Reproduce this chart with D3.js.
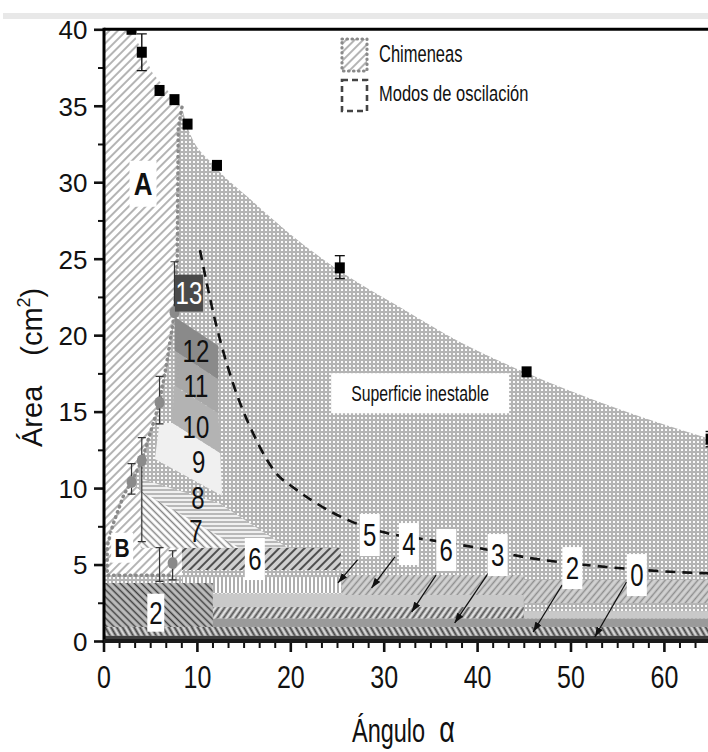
<!DOCTYPE html>
<html><head><meta charset="utf-8">
<script src="https://cdn.jsdelivr.net/npm/d3@7"></script>
<style>body{margin:0;background:#fff}svg{display:block}</style>
</head><body>
<svg id="c" width="708" height="752"></svg>
<script>
// ---------------- DATA ----------------
const xTicks = [0, 10, 20, 30, 40, 50, 60];
const yTicks = [0, 5, 10, 15, 20, 25, 30, 35, 40];
const xMinorStep = 10 / 6;
const yMinorStep = 2.5;

// unstable-surface limit (black squares) and error bars [x, lo, hi]
const unstableSquares = [[3, 40], [4.1, 38.5], [6, 36], [7.6, 35.4], [9, 33.8], [12.15, 31.1], [25.3, 24.4], [45.3, 17.6], [65, 13.2]];
const squareErr = [[4.1, 37.3, 39.7], [25.3, 23.7, 25.2], [65, 12.7, 13.7]];

// chimney limit (gray circles) and error bars
const chimneyCircles = [[3, 10.4], [4.1, 11.8], [6, 15.6], [7.6, 21.5], [7.4, 5.1]];
const circleErr = [[3, 9.6, 11.6], [4.1, 6.5, 13.3], [6, 14.2, 17.3], [7.6, 21.5, 24.8], [7.4, 4.0, 5.9], [6, 3.9, 6.1]];

// boundaries
const upperBoundary = [[8.4, 34.9], [9, 33.6], [12, 31], [15.7, 28.9], [20, 26.6], [25.3, 24.2], [31.8, 21.8], [38, 19.6], [45, 17.6], [55, 15.2], [65, 13.2]];
const regionA = [[0, 40], [3, 40], [5.3, 37.1], [8.4, 34.9], [8.0, 33.5], [7.9, 25], [7.6, 21.5], [6.8, 18.3], [6, 15.6], [5, 13.6], [4.1, 11.8], [3, 10.4], [3.6, 10.0], [4.0, 9.8], [4.0, 6.1], [8.4, 6.1], [8.4, 4.3], [0, 4.3]];
const chimneyLineA = [[8.4, 34.9], [8.0, 33.5], [7.9, 25], [7.6, 21.5], [6.8, 18.3], [6, 15.6], [5, 13.6], [4.1, 11.8], [3, 10.4]];
const chimneyLineB = [[3, 10.4], [2.2, 9.6], [1.0, 7.6], [0.4, 6.2], [0.4, 4.3], [7.3, 4.3]];
const oscillationBoundary = [[10.33, 25.56], [11.94, 20.98], [13.86, 16.86], [16.0, 13.6], [18.9, 10.7], [19.96, 10.2], [24.6, 8.37], [29.9, 7.12], [34.96, 6.6], [39.6, 6.14], [45.7, 5.42], [53.9, 4.84], [63.9, 4.44], [65, 4.42]];

// oscillation-mode regions (polygons)
const mode12 = [[7.6, 21.2], [12.3, 19.3], [12.3, 17.1], [7.6, 19.0]];
const mode11 = [[7.6, 19.0], [12.3, 17.1], [12.3, 14.9], [7.6, 16.7]];
const mode10 = [[7.5, 16.7], [12.3, 14.9], [12.5, 12.3], [7.4, 14.25]];
const mode9 = [[6.0, 14.25], [7.4, 14.25], [12.5, 12.3], [12.7, 9.5], [5.5, 11.9]];
const mode8 = [[4.1, 10.6], [12.4, 9.0], [19.7, 6.1], [4.0, 6.1]];
const mode7 = [[4.0, 9.8], [14.5, 6.1], [4.0, 6.1]];

// rectangular mode bands: [name, x0, x1, y0, y1]
const modeBands = [
  ["base", 0, 65, 0, 0.35],
  ["m0", 0, 65, 0.35, 0.92],
  ["m1", 11.7, 65, 0.92, 1.48],
  ["m3", 11.7, 45, 1.48, 2.22],
  ["m6b", 11.7, 45, 2.22, 3.1],
  ["m2gray", 45, 65, 1.48, 1.95],
  ["m2", 45, 65, 2.48, 3.99],
  ["m4", 25.5, 45, 3.01, 4.31],
  ["m5", 8.4, 25.5, 3.14, 4.18],
  ["m6", 8.4, 25.4, 4.64, 6.08],
  ["m2L", 0, 11.7, 0.92, 3.79]
];

// labels [text, x, y]
const boxedLabels = [["5", 28.5, 6.93], ["4", 32.7, 6.34], ["6", 36.7, 5.95], ["3", 42.2, 5.62], ["2", 50.2, 4.77], ["0", 57.1, 4.31], ["6", 16.2, 5.36], ["2", 5.6, 1.85]];
const bandLabels = [["12", 9.9, 19.0], ["11", 9.9, 16.7], ["10", 9.9, 14.0], ["9", 10.2, 11.7], ["8", 10.1, 9.35], ["7", 9.9, 7.2]];
const darkLabel = ["13", 9.15, 22.75];
const regionLabels = [["A", 4.23, 29.9], ["B", 2.0, 6.1]];
const regionTitle = ["Superficie inestable", 33.9, 16.2];
// arrows [x1, y1, x2, y2]
const arrows = [[27.2, 5.3, 25.1, 3.8], [31.2, 5.5, 28.7, 3.47], [35.6, 4.31, 33.0, 1.9], [41.2, 4.44, 37.6, 1.18], [49.1, 3.66, 46.0, 0.59], [56.0, 3.86, 52.6, 0.26]];
const legendItems = ["Chimeneas", "Modos de oscilación"];
const xTitle = "Ángulo";
const yTitle = "Área";
const yUnit = "(cm";

// ---------------- DRAW ----------------
const FONT = "'Liberation Sans', Arial, sans-serif";
const svg = d3.select("#c");
const defs = svg.append("defs");
const x = d3.scaleLinear().domain([0, 65]).range([103.5, 710.6]);
const y = d3.scaleLinear().domain([0, 40]).range([641, 29.3]);

function hatch(id, bg, color, w, sp, ang) {
  const p = defs.append("pattern").attr("id", id).attr("patternUnits", "userSpaceOnUse")
    .attr("width", sp).attr("height", sp).attr("patternTransform", `rotate(${ang})`);
  p.append("rect").attr("width", sp).attr("height", sp).attr("fill", bg);
  p.append("line").attr("x1", sp / 2).attr("x2", sp / 2).attr("y1", -1).attr("y2", sp + 1)
    .attr("stroke", color).attr("stroke-width", w);
}
hatch("pA", "#ffffff", "#8c8c8c", 1.3, 6, 45);
hatch("p7", "#ffffff", "#858585", 1.5, 5, -45);
hatch("p8", "#f0f0f0", "#a5a5a5", 1.5, 4, 90);
hatch("p6", "#d0d0d0", "#505050", 2, 6, 45);
hatch("pV", "#ffffff", "#9a9a9a", 1.6, 4, 0);
hatch("p2", "#bdbdbd", "#3c3c3c", 1.5, 5, -45);
hatch("pBot", "#d4d4d4", "#444444", 2, 5, -30);
hatch("pF", "#e0e0e0", "#555555", 2, 5, 35);
hatch("p4", "#d2d2d2", "#8e8e8e", 1.5, 5, 40);
const pc = defs.append("pattern").attr("id", "chk").attr("patternUnits", "userSpaceOnUse").attr("width", 4).attr("height", 4);
pc.append("rect").attr("width", 4).attr("height", 4).attr("fill", "#b4b4b4");
pc.append("rect").attr("x", 1).attr("y", 1).attr("width", 2).attr("height", 2).attr("fill", "#fafafa");
defs.append("marker").attr("id", "arr").attr("viewBox", "0 0 10 7").attr("refX", 10).attr("refY", 3.5)
  .attr("markerWidth", 10).attr("markerHeight", 7).attr("markerUnits", "userSpaceOnUse").attr("orient", "auto")
  .append("path").attr("d", "M0,0L10,3.5L0,7Z").attr("fill", "#111");
defs.append("clipPath").attr("id", "plot").append("rect")
  .attr("x", x(0)).attr("y", y(40)).attr("width", x(65) - x(0)).attr("height", y(0) - y(40));

const bandStyle = {
  base: "#3e3e3e", m0: "url(#pBot)", m1: "#9a9a9a", m3: "url(#pF)", m6b: "#c9c9c9", m2gray: "#c9c9c9",
  m2: "url(#p4)", m4: "url(#p4)", m5: "url(#pV)", m6: "url(#p6)", m2L: "url(#p2)"
};

// screenshot strip at top
svg.append("rect").attr("x", 3).attr("y", 13).attr("width", 705).attr("height", 6).attr("fill", "#e8e8e8");

const g = svg.append("g").attr("clip-path", "url(#plot)");
const poly = d3.line().x(d => x(d[0])).y(d => y(d[1]));

// unstable region (checker) under the upper boundary
const upperPath = d3.line().x(d => x(d[0])).y(d => y(d[1])).curve(d3.curveMonotoneX)(upperBoundary);
g.append("path").attr("d", upperPath + `L${x(65)},${y(0)}L${x(0)},${y(0)}L${x(0)},${y(34.9)}Z`).attr("fill", "url(#chk)");
// chimney region A/B
g.append("path").attr("d", poly(regionA) + "Z").attr("fill", "url(#pA)");
// mode polygons
[[mode8, "url(#p8)"], [mode7, "url(#p7)"], [mode9, "#f0f0f0"], [mode10, "#b3b3b3"], [mode11, "#a8a8a8"], [mode12, "#8a8a8a"]]
  .forEach(([p, f]) => g.append("path").attr("d", poly(p) + "Z").attr("fill", f));
// rectangular bands
modeBands.forEach(([n, x0, x1, y0, y1]) => g.append("rect")
  .attr("x", x(x0)).attr("y", y(y1)).attr("width", x(x1) - x(x0)).attr("height", y(y0) - y(y1))
  .attr("fill", bandStyle[n]));

// chimney dotted boundaries
[chimneyLineA, chimneyLineB].forEach(l => g.append("path").attr("d", poly(l)).attr("fill", "none")
  .attr("stroke", "#8a8a8a").attr("stroke-width", 3.5).attr("stroke-dasharray", "0.5 5").attr("stroke-linecap", "round"));

// oscillation boundary (dashed)
g.append("path").attr("d", d3.line().x(d => x(d[0])).y(d => y(d[1])).curve(d3.curveMonotoneX)(oscillationBoundary))
  .attr("fill", "none").attr("stroke", "#111").attr("stroke-width", 2.6).attr("stroke-dasharray", "10 7");

// error bars
function errBars(data, color, cap, w) {
  data.forEach(([xv, lo, hi]) => {
    g.append("line").attr("x1", x(xv)).attr("x2", x(xv)).attr("y1", y(lo)).attr("y2", y(hi)).attr("stroke", color).attr("stroke-width", w);
    [lo, hi].forEach(v => g.append("line").attr("x1", x(xv) - cap / 2).attr("x2", x(xv) + cap / 2).attr("y1", y(v)).attr("y2", y(v)).attr("stroke", color).attr("stroke-width", w));
  });
}
errBars(circleErr, "#333", 8, 1.2);
errBars(squareErr, "#111", 10, 1.4);
g.selectAll(".circ").data(chimneyCircles).enter().append("ellipse").attr("cx", d => x(d[0])).attr("cy", d => y(d[1]))
  .attr("rx", 5).attr("ry", 6).attr("fill", "#8a8a8a");
g.selectAll(".sq").data(unstableSquares).enter().append("rect").attr("x", d => x(d[0]) - 5).attr("y", d => y(d[1]) - 5.5)
  .attr("width", 10).attr("height", 11).attr("fill", "#000");

// arrows
arrows.forEach(([a, b, c, d]) => g.append("line").attr("x1", x(a)).attr("y1", y(b)).attr("x2", x(c)).attr("y2", y(d))
  .attr("stroke", "#111").attr("stroke-width", 1.3).attr("marker-end", "url(#arr)"));

// text helper: (px,py) is the visual centre of cap-height text
function ctext(px, py, s, size, sx, sy, opt = {}) {
  const base = py + 0.716 * size * sy / 2;
  return svg.append("text").attr("transform", `translate(${px},${base}) scale(${sx},${sy})`)
    .attr("text-anchor", opt.anchor || "middle").attr("font-family", FONT).attr("font-size", size)
    .attr("font-weight", opt.weight || "normal").attr("fill", opt.fill || "#111").text(s);
}
// labels
boxedLabels.forEach(([t, xv, yv], i) => {
  const w = i === 7 ? 17 : 20, h = i === 7 ? 38 : 42;
  svg.append("rect").attr("x", x(xv) - w / 2).attr("y", y(yv) - h / 2).attr("width", w).attr("height", h).attr("fill", "#fff");
  ctext(x(xv), y(yv), t, 24, 1, 1.3);
});
bandLabels.forEach(([t, xv, yv]) => ctext(x(xv), y(yv), t, 24, 1, 1.3));
svg.append("rect").attr("x", x(darkLabel[1]) - 14).attr("y", y(darkLabel[2]) - 18.5).attr("width", 28).attr("height", 37).attr("fill", "#4a4a4a");
ctext(x(darkLabel[1]), y(darkLabel[2]), darkLabel[0], 24, 1, 1.3, { fill: "#fff" });
// region labels
svg.append("rect").attr("x", x(regionLabels[0][1]) - 13.5).attr("y", y(regionLabels[0][2]) - 23).attr("width", 27).attr("height", 46).attr("fill", "#fff");
svg.append("rect").attr("x", x(regionLabels[1][1]) - 11).attr("y", y(regionLabels[1][2]) - 15).attr("width", 22).attr("height", 30).attr("fill", "#fff");
ctext(x(regionLabels[0][1]), y(regionLabels[0][2]), regionLabels[0][0], 26, 1, 1.2, { weight: "bold" });
ctext(x(regionLabels[1][1]), y(regionLabels[1][2]), regionLabels[1][0], 21, 1, 1.2, { weight: "bold" });
svg.append("rect").attr("x", x(regionTitle[1]) - 89).attr("y", y(regionTitle[2]) - 20).attr("width", 178).attr("height", 40).attr("fill", "#fff");
ctext(x(regionTitle[1]), y(regionTitle[2]), regionTitle[0], 15.8, 1, 1.45);

// legend
const lg = svg.append("g");
lg.append("rect").attr("x", 342).attr("y", 39).attr("width", 25).attr("height", 32).attr("fill", "url(#pA)")
  .attr("stroke", "#8a8a8a").attr("stroke-width", 3.2).attr("stroke-dasharray", "0.5 4.5").attr("stroke-linecap", "round");
lg.append("rect").attr("x", 342).attr("y", 80).attr("width", 25).attr("height", 31).attr("fill", "#fff")
  .attr("stroke", "#444").attr("stroke-width", 2.6).attr("stroke-dasharray", "6 4");
ctext(379, 53.5, legendItems[0], 16.5, 1, 1.4, { anchor: "start" });
ctext(379, 93, legendItems[1], 16.5, 1, 1.3, { anchor: "start" });

// axes
const minorX = d3.range(0, 65.01, xMinorStep).filter(v => Math.abs(v / 10 - Math.round(v / 10)) > 1e-6);
const minorY = d3.range(0, 40.01, yMinorStep).filter(v => v % 5 !== 0);
const ax = svg.append("g").attr("transform", `translate(0,${y(0)})`)
  .call(d3.axisBottom(x).tickValues(xTicks).tickSize(11).tickSizeOuter(0).tickFormat(d3.format("d")));
ax.select(".domain").remove();
ax.selectAll("line").attr("stroke", "#111").attr("stroke-width", 2.6);
ax.selectAll("text").attr("dy", null).attr("y", 47 / 1.25).attr("transform", "scale(1,1.25)")
  .attr("font-family", FONT).attr("font-size", 25).attr("fill", "#111");
const axm = svg.append("g").attr("transform", `translate(0,${y(0)})`)
  .call(d3.axisBottom(x).tickValues(minorX).tickSize(7).tickSizeOuter(0).tickFormat(""));
axm.select(".domain").remove();
axm.selectAll("line").attr("stroke", "#111").attr("stroke-width", 2);

const ay = svg.append("g").attr("transform", `translate(${x(0) + 0.5},0)`)
  .call(d3.axisLeft(y).tickValues(yTicks).tickSize(10).tickSizeOuter(0).tickFormat(d3.format("d")));
ay.select(".domain").remove();
ay.selectAll("line").attr("stroke", "#111").attr("stroke-width", 2.6);
ay.selectAll("text").attr("x", -16.5).attr("dy", "0.36em").attr("font-family", FONT).attr("font-size", 26).attr("fill", "#111");
const aym = svg.append("g").attr("transform", `translate(${x(0) + 0.5},0)`)
  .call(d3.axisLeft(y).tickValues(minorY).tickSize(6).tickSizeOuter(0).tickFormat(""));
aym.select(".domain").remove();
aym.selectAll("line").attr("stroke", "#111").attr("stroke-width", 2);

// frame lines
svg.append("line").attr("x1", x(0) + 0.5).attr("x2", 708).attr("y1", y(40)).attr("y2", y(40)).attr("stroke", "#000").attr("stroke-width", 3);
svg.append("line").attr("x1", x(0) + 0.5).attr("x2", x(0) + 0.5).attr("y1", y(40) - 1.5).attr("y2", y(0) + 2).attr("stroke", "#000").attr("stroke-width", 3);
svg.append("line").attr("x1", x(0)).attr("x2", 708).attr("y1", y(0)).attr("y2", y(0)).attr("stroke", "#1a1a1a").attr("stroke-width", 4);

// axis titles
const xt = svg.append("text").attr("transform", "translate(352,742) scale(1,1.4)").attr("font-family", FONT)
  .attr("font-size", 23.5).attr("fill", "#111");
xt.append("tspan").text(xTitle);
xt.append("tspan").attr("dx", 14).attr("font-size", 27).text("α");
const yt = svg.append("text").attr("transform", "translate(42,447) rotate(-90)").attr("font-family", FONT)
  .attr("font-size", 29).attr("fill", "#111");
yt.append("tspan").text(yTitle);
yt.append("tspan").attr("dx", 30).text(yUnit);
yt.append("tspan").attr("font-size", 18).attr("dy", -12).text("2");
yt.append("tspan").attr("dy", 12).text(")");
</script>
</body></html>
